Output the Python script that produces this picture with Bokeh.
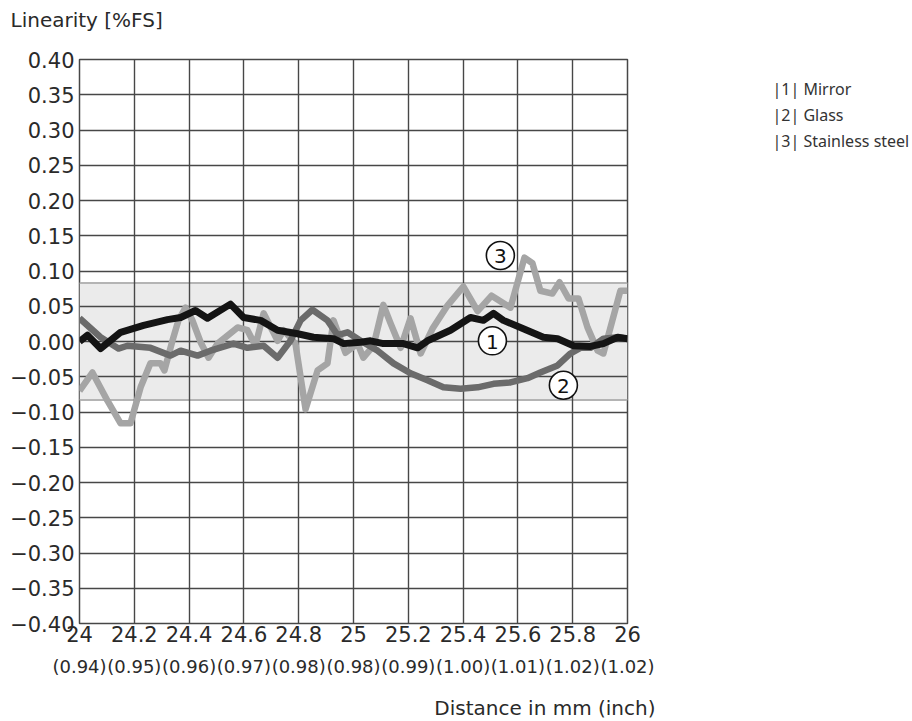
from bokeh.plotting import figure
from bokeh.layouts import row
from bokeh.models import Range1d, FixedTicker, LinearAxis, ColumnDataSource, Title
from bokeh.core.properties import value
from bokeh.embed import file_html
from bokeh.resources import INLINE

# ---------------- data ----------------
x_ticks = [24.0, 24.2, 24.4, 24.6, 24.8, 25.0, 25.2, 25.4, 25.6, 25.8, 26.0]
x_tick_mm = ["24", "24.2", "24.4", "24.6", "24.8", "25", "25.2", "25.4", "25.6", "25.8", "26"]
x_tick_inch = ["(0.94)", "(0.95)", "(0.96)", "(0.97)", "(0.98)", "(0.98)",
               "(0.99)", "(1.00)", "(1.01)", "(1.02)", "(1.02)"]
y_ticks = [0.40, 0.35, 0.30, 0.25, 0.20, 0.15, 0.10, 0.05, 0.0,
           -0.05, -0.10, -0.15, -0.20, -0.25, -0.30, -0.35, -0.40]
y_tick_labels = ["0.40", "0.35", "0.30", "0.25", "0.20", "0.15", "0.10", "0.05", "0.00",
                 "\u22120.05", "\u22120.10", "\u22120.15", "\u22120.20", "\u22120.25",
                 "\u22120.30", "\u22120.35", "\u22120.40"]

band_x = [24.0, 26.0]
band_low = [-0.083, -0.083]
band_high = [0.083, 0.083]

mirror_x = [24.000, 24.029, 24.077, 24.150, 24.234, 24.321, 24.369, 24.423, 24.467, 24.551,
            24.599, 24.661, 24.723, 24.796, 24.854, 24.927, 24.964, 25.026, 25.062, 25.109,
            25.182, 25.234, 25.270, 25.354, 25.427, 25.474, 25.511, 25.547, 25.620, 25.693,
            25.745, 25.803, 25.865, 25.912, 25.964, 26.000]
mirror_y = [0.000, 0.009, -0.010, 0.013, 0.023, 0.031, 0.034, 0.044, 0.033, 0.053,
            0.034, 0.030, 0.016, 0.011, 0.006, 0.004, -0.003, -0.001, 0.001, -0.003,
            -0.003, -0.009, 0.001, 0.016, 0.034, 0.030, 0.040, 0.030, 0.018, 0.006,
            0.004, -0.006, -0.007, -0.003, 0.006, 0.004]

glass_x = [24.000, 24.077, 24.142, 24.175, 24.259, 24.332, 24.369, 24.431, 24.478, 24.562,
           24.613, 24.672, 24.723, 24.770, 24.807, 24.850, 24.905, 24.942, 24.978, 25.026,
           25.088, 25.146, 25.208, 25.270, 25.328, 25.391, 25.453, 25.511, 25.573, 25.635,
           25.682, 25.745, 25.792, 25.828, 25.865, 25.912, 25.964, 26.000]
glass_y = [0.033, 0.006, -0.010, -0.006, -0.009, -0.020, -0.013, -0.020, -0.013, -0.003,
           -0.009, -0.006, -0.023, 0.001, 0.030, 0.045, 0.030, 0.009, 0.013, 0.001,
           -0.013, -0.031, -0.045, -0.055, -0.065, -0.067, -0.065, -0.060, -0.058, -0.052,
           -0.044, -0.034, -0.017, -0.009, -0.009, 0.004, 0.006, 0.004]

steel_x = [24.000, 24.047, 24.102, 24.150, 24.186, 24.223, 24.259, 24.296, 24.310, 24.339,
           24.361, 24.387, 24.412, 24.442, 24.471, 24.504, 24.577, 24.613, 24.642, 24.672,
           24.723, 24.745, 24.788, 24.825, 24.869, 24.905, 24.927, 24.971, 25.015, 25.036,
           25.073, 25.109, 25.135, 25.172, 25.208, 25.245, 25.288, 25.343, 25.401, 25.453,
           25.504, 25.573, 25.624, 25.653, 25.682, 25.726, 25.752, 25.785, 25.821, 25.854,
           25.891, 25.912, 25.938, 25.974, 26.000]
steel_y = [-0.070, -0.044, -0.084, -0.116, -0.116, -0.065, -0.031, -0.031, -0.041, 0.001,
           0.030, 0.048, 0.030, -0.001, -0.023, -0.003, 0.020, 0.016, -0.006, 0.040,
           0.001, 0.016, -0.003, -0.096, -0.041, -0.031, 0.030, -0.016, -0.003, -0.023,
           -0.006, 0.052, 0.026, -0.009, 0.033, -0.017, 0.018, 0.051, 0.078, 0.043,
           0.065, 0.048, 0.119, 0.111, 0.072, 0.068, 0.084, 0.061, 0.061, 0.020,
           -0.013, -0.017, 0.020, 0.072, 0.072]

series_numbers = ["1", "2", "3"]
legend_texts = ["|1| Mirror", "|2| Glass", "|3| Stainless steel"]
y_title = "Linearity [%FS]"
x_title = "Distance in mm (inch)"

# ---------------- main figure ----------------
FONT = "DejaVu Sans"
GRID = "#474747"
TXT = "#2a2a2a"
W_MAIN = 660
H = 721

p = figure(width=W_MAIN, height=H, output_backend="svg", toolbar_location=None,
           x_range=Range1d(24.0, 26.0), y_range=Range1d(-0.40, 0.40),
           x_axis_location=None, y_axis_location=None,
           min_border_left=79, min_border_right=33, min_border_top=59, min_border_bottom=98)
p.background_fill_color = "white"
p.border_fill_color = "white"
p.outline_line_color = GRID
p.outline_line_width = 1.5

p.xgrid.ticker = FixedTicker(ticks=x_ticks)
p.ygrid.ticker = FixedTicker(ticks=y_ticks)
for g in (p.xgrid, p.ygrid):
    g.grid_line_color = GRID
    g.grid_line_width = 1.4
    g.grid_line_alpha = 1.0

# tolerance band (below the grid)
p.varea(x=band_x, y1=band_low, y2=band_high, fill_color="#ebebeb", level="image")
p.line(x=band_x, y=band_low, line_color="#b4b4b4", line_width=2, level="image")
p.line(x=band_x, y=band_high, line_color="#b4b4b4", line_width=2, level="image")


def plain_axis(ticks, labels, size, standoff):
    ax = LinearAxis(ticker=FixedTicker(ticks=ticks),
                    major_label_overrides={t: s for t, s in zip(ticks, labels)})
    ax.axis_line_color = None
    ax.major_tick_line_color = None
    ax.minor_tick_line_color = None
    ax.major_tick_out = 0
    ax.major_tick_in = 0
    ax.minor_tick_out = 0
    ax.major_label_standoff = standoff
    ax.major_label_text_font = FONT
    ax.major_label_text_font_size = size
    ax.major_label_text_color = TXT
    return ax


p.add_layout(plain_axis(y_ticks, y_tick_labels, "21px", 5), "left")
p.add_layout(plain_axis(x_ticks, x_tick_mm, "21px", 2), "below")
p.add_layout(plain_axis(x_ticks, x_tick_inch, "18px", 11), "below")

# x title (spacer first, then the title itself)
p.add_layout(Title(text=" ", text_font_size="10px", standoff=1, text_color="white"), "below")
p.add_layout(Title(text=x_title, align="right", offset=-28, standoff=0,
                   text_font=FONT, text_font_size="20px", text_font_style="normal",
                   text_color=TXT), "below")
# y title (spacer first, then the title itself)
p.add_layout(Title(text=" ", text_font_size="12px", standoff=12, text_color="white"), "above")
p.add_layout(Title(text=y_title, align="left", offset=-69, standoff=0,
                   text_font=FONT, text_font_size="20px", text_font_style="normal",
                   text_color=TXT), "above")

# series
p.line(steel_x, steel_y, line_color="#a5a5a5", line_width=6.5, line_join="round")
p.line(glass_x, glass_y, line_color="#6b6b6b", line_width=6.5, line_join="round")
p.line(mirror_x, mirror_y, line_color="#141414", line_width=7, line_join="round")

# circled series numbers
lab = ColumnDataSource(data=dict(x=[25.507, 25.766, 25.536], y=[0.001, -0.062, 0.122],
                                 t=series_numbers))
p.scatter("x", "y", source=lab, size=28, marker="circle", fill_color="white",
          line_color="#111111", line_width=1.6)
p.text("x", "y", text="t", source=lab, text_align="center", text_baseline="middle",
       text_font=value(FONT), text_font_size="20px", text_color="#111111", y_offset=1)

# ---------------- key panel (page-pixel coordinates) ----------------
q = figure(width=912 - W_MAIN, height=H, output_backend="svg", toolbar_location=None,
           x_range=Range1d(W_MAIN, 912), y_range=Range1d(623, 59),
           x_axis_location=None, y_axis_location=None,
           min_border=0, min_border_left=0, min_border_right=0,
           min_border_top=59, min_border_bottom=98)
q.outline_line_color = None
q.xgrid.visible = False
q.ygrid.visible = False
q.border_fill_color = "white"
q.background_fill_color = "white"
leg = ColumnDataSource(data=dict(x=[772, 772, 772], y=[88, 114, 140], t=legend_texts))
q.text("x", "y", text="t", source=leg, text_baseline="middle",
       text_font=value("Noto Sans"), text_font_size="16px", text_color="#333333")

open("out.html", "w").write(file_html(row(p, q), INLINE))
